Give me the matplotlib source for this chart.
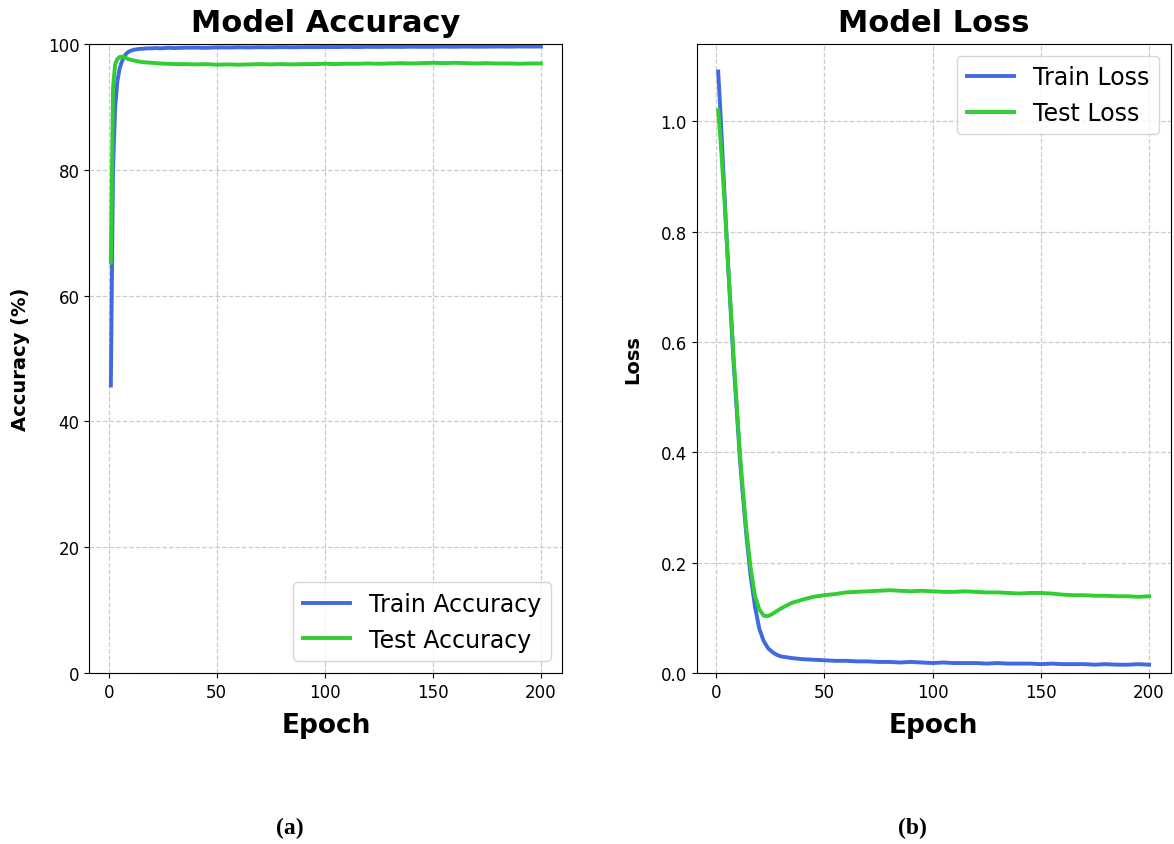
import numpy as np
import matplotlib
matplotlib.use('Agg')
from matplotlib import pyplot as plt
from matplotlib.ticker import MultipleLocator

epochs = list(range(1, 13)) + [14, 16, 18, 20, 22, 24, 26, 28, 30] + list(range(35, 201, 5))

train_acc = [45.7, 80.0, 90.0, 94.0, 96.0, 97.1, 97.9, 98.4, 98.7, 98.9, 99.0, 99.1,
             99.2, 99.25, 99.3, 99.3, 99.35, 99.3, 99.35, 99.4, 99.35,
             99.4, 99.42, 99.38, 99.45, 99.43, 99.47, 99.44, 99.48, 99.46, 99.5,
             99.47, 99.5, 99.49, 99.52, 99.5, 99.53, 99.5, 99.54, 99.52, 99.55,
             99.53, 99.56, 99.54, 99.55, 99.57, 99.55, 99.58, 99.56, 99.57, 99.59,
             99.57, 99.6, 99.58, 99.6]
test_acc = [65.3, 93.0, 96.8, 97.6, 97.9, 98.0, 97.9, 97.8, 97.6, 97.5, 97.4, 97.35,
            97.2, 97.1, 97.05, 97.0, 96.95, 96.9, 96.85, 96.85, 96.8,
            96.8, 96.75, 96.8, 96.7, 96.75, 96.7, 96.75, 96.8, 96.75, 96.8,
            96.75, 96.8, 96.8, 96.85, 96.8, 96.85, 96.85, 96.9, 96.85, 96.9,
            96.95, 96.9, 96.95, 97.0, 96.95, 97.0, 96.95, 96.9, 96.95, 96.9,
            96.9, 96.85, 96.9, 96.9]

train_loss = [1.09, 1.02, 0.94, 0.86, 0.78, 0.71, 0.64, 0.57, 0.51, 0.45, 0.39, 0.34,
              0.25, 0.175, 0.12, 0.08, 0.058, 0.045, 0.038, 0.033, 0.030,
              0.027, 0.025, 0.024, 0.023, 0.022, 0.022, 0.021, 0.021, 0.020, 0.020,
              0.019, 0.020, 0.019, 0.018, 0.019, 0.018, 0.018, 0.018, 0.017, 0.018,
              0.017, 0.017, 0.017, 0.016, 0.017, 0.016, 0.016, 0.016, 0.015, 0.016,
              0.015, 0.015, 0.016, 0.015]
test_loss = [1.02, 0.97, 0.91, 0.85, 0.78, 0.71, 0.65, 0.58, 0.52, 0.46, 0.40, 0.35,
             0.26, 0.19, 0.14, 0.115, 0.104, 0.103, 0.107, 0.112, 0.117,
             0.127, 0.133, 0.138, 0.141, 0.143, 0.146, 0.147, 0.148, 0.149, 0.150,
             0.149, 0.148, 0.149, 0.148, 0.147, 0.147, 0.148, 0.147, 0.146, 0.146,
             0.145, 0.144, 0.145, 0.145, 0.144, 0.142, 0.141, 0.141, 0.140, 0.140,
             0.139, 0.139, 0.138, 0.139]

BLUE = '#4169E1'
GREEN = '#32CD32'

fig = plt.figure(figsize=(11.74, 8.45), dpi=100)
ax1 = fig.add_axes([0.0761, 0.2024, 0.4029, 0.7444])
ax2 = fig.add_axes([0.5934, 0.2024, 0.4037, 0.7444])

ax1.plot(epochs, train_acc, color=BLUE, lw=2.8, label='Train Accuracy')
ax1.plot(epochs, test_acc, color=GREEN, lw=2.8, label='Test Accuracy')
ax1.set_ylim(0, 100)
ax1.set_title('Model Accuracy', fontsize=22, fontweight='bold', pad=9.5)
ax1.set_xlabel('Epoch', fontsize=19, fontweight='bold', labelpad=8)
ax1.set_ylabel('Accuracy (%)', fontsize=14, fontweight='bold', labelpad=13)
ax1.legend(loc='lower right', fontsize=17)

ax2.plot(epochs, train_loss, color=BLUE, lw=2.8, label='Train Loss')
ax2.plot(epochs, test_loss, color=GREEN, lw=2.8, label='Test Loss')
ax2.set_ylim(0, 1.14)
ax2.set_title('Model Loss', fontsize=22, fontweight='bold', pad=9.5)
ax2.set_xlabel('Epoch', fontsize=19, fontweight='bold', labelpad=8)
ax2.set_ylabel('Loss', fontsize=14, fontweight='bold', labelpad=13)
ax2.legend(loc='upper right', fontsize=17)

for ax in (ax1, ax2):
    ax.xaxis.set_major_locator(MultipleLocator(50))
    ax.grid(True, linestyle='--', color='#cccccc', linewidth=0.9)
    ax.tick_params(labelsize=12)

fig.text(290 / 1174, 1 - 828 / 845, '(a)', family='Liberation Serif', fontweight='bold',
         fontsize=17, ha='center', va='center')
fig.text(912 / 1174, 1 - 828 / 845, '(b)', family='Liberation Serif', fontweight='bold',
         fontsize=17, ha='center', va='center')

plt.savefig('out.png', dpi=100)
